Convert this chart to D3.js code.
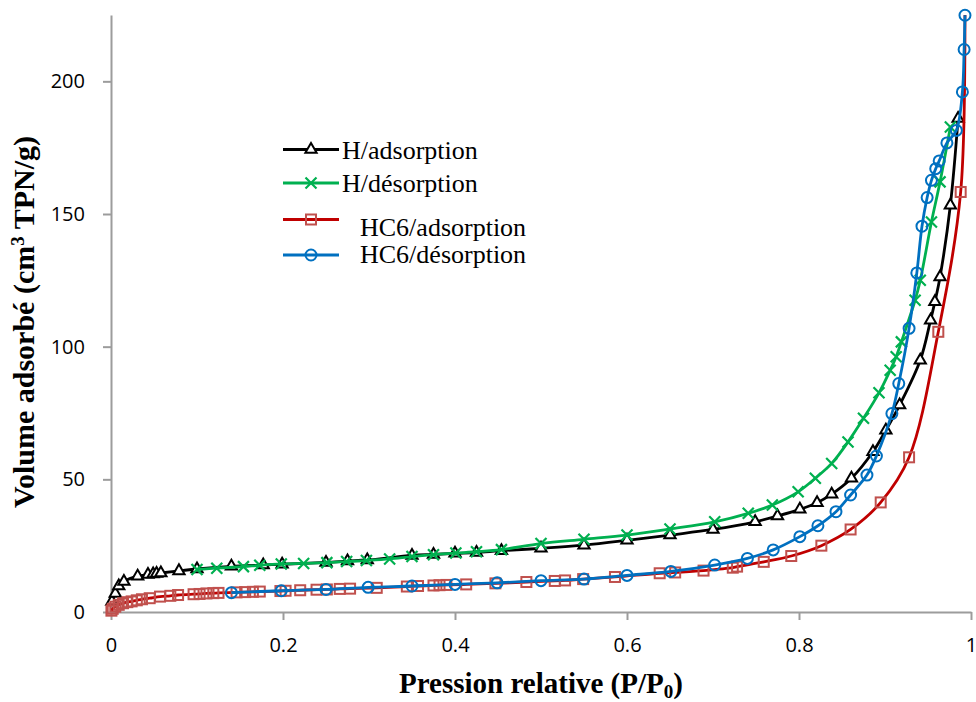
<!DOCTYPE html>
<html>
<head>
<meta charset="utf-8">
<script src="https://cdn.jsdelivr.net/npm/d3@7"></script>
<style>
  body { margin: 0; background: #fff; }
  svg { display: block; }
</style>
</head>
<body>
<div id="chart"></div>
<script>
// series: relative pressure (P/P0) and adsorbed volume
var hAdsP = [0.001, 0.005, 0.009, 0.015, 0.031, 0.043, 0.049, 0.053, 0.058, 0.079, 0.1, 0.14, 0.177, 0.199, 0.25, 0.275, 0.298, 0.35, 0.375, 0.4, 0.425, 0.454, 0.5, 0.55, 0.6, 0.65, 0.7, 0.749, 0.775, 0.801, 0.821, 0.838, 0.861, 0.886, 0.901, 0.917, 0.941, 0.953, 0.958, 0.964, 0.976, 0.985];
var hAdsV = [4, 7, 9.8, 11.5, 13.5, 14.1, 14.3, 14.5, 14.7, 15.5, 16.2, 17.2, 17.7, 18.0, 18.7, 19.2, 19.6, 21.3, 21.7, 22.1, 22.4, 23.1, 24.0, 25.2, 27.0, 29.0, 31.1, 34.0, 36.2, 38.7, 41.2, 44.4, 50.4, 60.4, 68.5, 78.0, 94.9, 110, 116.9, 126.3, 153.3, 186];

var hDesP = [0.1, 0.123, 0.154, 0.173, 0.198, 0.224, 0.251, 0.274, 0.297, 0.324, 0.35, 0.375, 0.401, 0.425, 0.454, 0.5, 0.55, 0.6, 0.65, 0.702, 0.741, 0.769, 0.799, 0.819, 0.838, 0.857, 0.875, 0.893, 0.906, 0.913, 0.919, 0.935, 0.941, 0.954, 0.964, 0.976];
var hDesV = [16.0, 16.5, 17.1, 17.6, 18.1, 18.3, 18.6, 19.0, 19.4, 20.0, 20.9, 21.6, 22.2, 22.7, 23.5, 25.8, 27.4, 29.0, 31.3, 34.0, 37.2, 40.3, 45.3, 50.4, 56.0, 64.1, 73.0, 82.6, 91.1, 96.2, 101.8, 117.5, 125.0, 147.0, 162.1, 182.8];

var hc6AdsP = [0.0005, 0.002, 0.005, 0.009, 0.014, 0.019, 0.024, 0.03, 0.036, 0.045, 0.057, 0.069, 0.078, 0.096, 0.103, 0.111, 0.119, 0.125, 0.146, 0.156, 0.165, 0.173, 0.197, 0.203, 0.22, 0.239, 0.251, 0.266, 0.278, 0.309, 0.344, 0.357, 0.375, 0.382, 0.39, 0.413, 0.447, 0.483, 0.516, 0.528, 0.549, 0.586, 0.638, 0.656, 0.689, 0.723, 0.728, 0.759, 0.791, 0.826, 0.86, 0.895, 0.928, 0.962, 0.988, 0.993];
var hc6AdsV = [0.5, 1.2, 2.0, 2.7, 3.3, 3.7, 4.0, 4.4, 4.8, 5.2, 5.8, 6.1, 6.4, 6.7, 6.8, 7.0, 7.1, 7.2, 7.4, 7.5, 7.6, 7.7, 7.9, 8.0, 8.2, 8.4, 8.5, 8.7, 8.8, 9.1, 9.6, 9.8, 10.0, 10.1, 10.2, 10.4, 10.8, 11.3, 11.7, 11.9, 12.4, 13.2, 14.6, 14.9, 15.6, 16.7, 17.1, 18.9, 21.1, 25.0, 31.1, 41.3, 58.3, 105.6, 158.3, 225];

var hc6DesP = [0.14, 0.198, 0.25, 0.299, 0.35, 0.4, 0.449, 0.5, 0.55, 0.6, 0.651, 0.702, 0.74, 0.77, 0.801, 0.822, 0.843, 0.86, 0.879, 0.89, 0.908, 0.916, 0.928, 0.937, 0.943, 0.949, 0.954, 0.959, 0.963, 0.972, 0.983, 0.99, 0.992, 0.993];
var hc6DesV = [7.3, 8.0, 8.5, 9.3, 9.8, 10.4, 11.0, 11.8, 12.4, 13.8, 15.3, 17.7, 20.2, 23.4, 28.4, 32.5, 37.8, 44.1, 51.6, 58.8, 74.8, 86.1, 106.9, 127.8, 145.4, 156.2, 162.7, 167.1, 170.0, 176.8, 181.5, 196, 212, 224.9];

var seriesNames = ['H/adsorption', 'H/désorption', 'HC6/adsorption', 'HC6/désorption'];
var xTicks = [0, 0.2, 0.4, 0.6, 0.8, 1];
var xTickLabels = ['0', '0.2', '0.4', '0.6', '0.8', '1'];
var yTicks = [0, 50, 100, 150, 200];

// #####################################################
// Build series objects
//
function zip(ps, vs) {
  return ps.map(function (p, i) { return {p: p, v: vs[i]}; });
}

var series = [
  {name: seriesNames[0], data: zip(hAdsP, hAdsV), line: '#000000', mark: '#000000', shape: 'triangle'},
  {name: seriesNames[1], data: zip(hDesP, hDesV), line: '#00B050', mark: '#00B050', shape: 'cross'},
  {name: seriesNames[2], data: zip(hc6AdsP, hc6AdsV), line: '#C00000', mark: '#C0504D', shape: 'square', skipLast: true},
  {name: seriesNames[3], data: zip(hc6DesP, hc6DesV), line: '#0070C0', mark: '#0070C0', shape: 'circle'}
];

var width = 976, height = 702;
var svg = d3.select('#chart').append('svg')
    .attr('width', width)
    .attr('height', height);

var x = d3.scaleLinear().domain([0, 1]).range([111, 971]);
var y = d3.scaleLinear().domain([0, 225]).range([612, 15]);

var axisColor = '#9C9C9C';

// #####################################################
// Axes
//
var xAxis = svg.append('g')
    .attr('transform', 'translate(0,' + y(0) + ')')
    .call(d3.axisBottom(x).tickValues(xTicks).tickSize(8).tickSizeOuter(0)
      .tickFormat(function (d, i) { return xTickLabels[i]; }));
xAxis.select('.domain').attr('stroke', axisColor).attr('stroke-width', 2);
xAxis.selectAll('.tick line').attr('stroke', axisColor).attr('stroke-width', 2);
xAxis.selectAll('.tick text')
    .attr('y', 26).attr('dy', '0.71em')
    .style('font-family', '"Open Sans", sans-serif')
    .style('font-size', '20px')
    .attr('fill', '#000');

var yAxis = svg.append('g')
    .attr('transform', 'translate(' + x(0) + ',0)')
    .call(d3.axisLeft(y).tickValues(yTicks).tickSize(8).tickSizeOuter(0));
yAxis.select('.domain').attr('stroke', axisColor).attr('stroke-width', 2);
yAxis.selectAll('.tick line').attr('stroke', axisColor).attr('stroke-width', 2);
yAxis.selectAll('.tick text')
    .attr('x', -26)
    .style('font-family', '"Open Sans", sans-serif')
    .style('font-size', '20px')
    .attr('fill', '#000');

// axis titles
var xTitle = svg.append('text')
    .attr('x', x(0.5))
    .attr('y', 693)
    .attr('text-anchor', 'middle')
    .style('font-family', '"Liberation Serif", "Times New Roman", serif')
    .style('font-weight', 'bold')
    .style('font-size', '29px');
xTitle.append('tspan').text('Pression relative (P/P');
xTitle.append('tspan').attr('dy', 5).style('font-size', '19px').text('0');
xTitle.append('tspan').attr('dy', -5).text(')');

var yTitle = svg.append('text')
    .attr('transform', 'translate(34,' + 322 + ') rotate(-90)')
    .attr('text-anchor', 'middle')
    .style('font-family', '"Liberation Serif", "Times New Roman", serif')
    .style('font-weight', 'bold')
    .style('font-size', '30px');
yTitle.append('tspan').text('Volume adsorbé (cm');
yTitle.append('tspan').attr('dy', -10).style('font-size', '19px').text('3');
yTitle.append('tspan').attr('dy', 10).text(' TPN/g)');

// #####################################################
// Markers
//
function drawMarker(g, shape, color) {
  if (shape == 'triangle') {
    g.append('path')
      .attr('d', d3.symbol().type(d3.symbolTriangle).size(55)())
      .attr('fill', '#fff')
      .attr('stroke', color)
      .attr('stroke-width', 2);
  } else if (shape == 'cross') {
    g.append('path')
      .attr('d', 'M-5.5,-5.5L5.5,5.5M-5.5,5.5L5.5,-5.5')
      .attr('fill', 'none')
      .attr('stroke', color)
      .attr('stroke-width', 2.2);
  } else if (shape == 'square') {
    g.append('rect')
      .attr('x', -5).attr('y', -5)
      .attr('width', 10).attr('height', 10)
      .attr('fill', 'none')
      .attr('stroke', color)
      .attr('stroke-width', 2);
  } else {
    g.append('circle')
      .attr('r', 5.5)
      .attr('fill', 'none')
      .attr('stroke', color)
      .attr('stroke-width', 2);
  }
}

// #####################################################
// Series lines + markers
//
var line = d3.line()
    .x(function (d) { return x(d.p); })
    .y(function (d) { return y(d.v); })
    .curve(d3.curveCatmullRom.alpha(0.5));

series.forEach(function (s) {
  var g = svg.append('g');
  g.append('path')
    .datum(s.data)
    .attr('d', line)
    .attr('fill', 'none')
    .attr('stroke', s.line)
    .attr('stroke-width', 2.8);

  var pts = s.skipLast ? s.data.slice(0, -1) : s.data;
  g.selectAll('g.pt')
    .data(pts)
    .enter().append('g')
      .attr('class', 'pt')
      .attr('transform', function (d) { return 'translate(' + x(d.p) + ',' + y(d.v) + ')'; })
      .each(function () { drawMarker(d3.select(this), s.shape, s.mark); });
});

// #####################################################
// Legend
//
var legendRows = [
  {lineY: 149.5, textX: 342, textY: 159},
  {lineY: 183, textX: 342, textY: 192},
  {lineY: 219.5, textX: 360, textY: 236},
  {lineY: 255, textX: 360, textY: 263}
];

series.forEach(function (s, i) {
  var r = legendRows[i];
  svg.append('line')
    .attr('x1', 283).attr('x2', 339)
    .attr('y1', r.lineY).attr('y2', r.lineY)
    .attr('stroke', s.line)
    .attr('stroke-width', 2.8);
  var m = svg.append('g').attr('transform', 'translate(311,' + r.lineY + ')');
  drawMarker(m, s.shape, s.mark);
  svg.append('text')
    .attr('x', r.textX)
    .attr('y', r.textY)
    .style('font-family', '"Liberation Serif", "Times New Roman", serif')
    .style('font-size', '26px')
    .text(s.name);
});
</script>
</body>
</html>
